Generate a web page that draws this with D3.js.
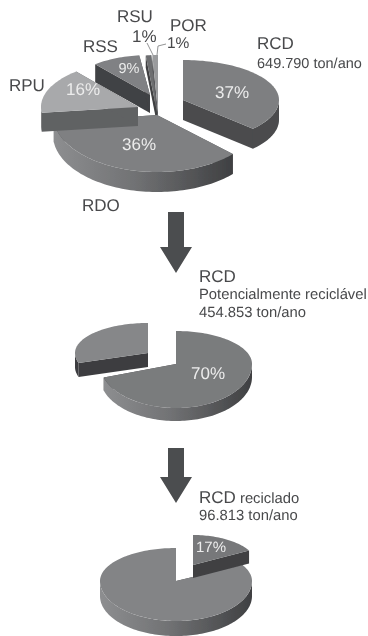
<!DOCTYPE html>
<html><head><meta charset="utf-8">
<script src="https://cdn.jsdelivr.net/npm/d3@7"></script>
<style>html,body{margin:0;padding:0;background:#fff}svg{display:block}text{font-family:"Liberation Sans",Arial,sans-serif;text-rendering:geometricPrecision}</style>
</head><body><svg id="c" width="368" height="636"></svg>
<script>
// data
const wasteNames = ["RCD","RDO","RPU","RSS","RSU","POR"];
const wasteShares = [37,36,16,9,1,1];
const potentialNames = ["Potencialmente reciclável","Outros"];
const potentialShares = [70,30];
const recycledNames = ["Reciclado","Outros"];
const recycledShares = [17,83];

// layout (one entry per slice, in data order)
const layoutWaste = [
  {cx:183,cy:100,rx:96,up:40,down:42,depth:20,top:"#7e7f81",face:"#4b4c4e",order:5},
  {cx:157,cy:115,rx:104,up:45,down:57,depth:20,top:"#7f8082",face:"#56575a",order:3},
  {cx:138,cy:107,rx:97,up:46,down:45,depth:19,top:"#a8a9ab",face:"#616264",order:4},
  {cx:150,cy:95,rx:86,up:40,down:38,depth:18,top:"#808184",face:"#414244",order:2},
  {cx:157,cy:112,rx:90,up:57,down:40,depth:12,top:"#6d6e70",face:"#3f4042",order:0},
  {cx:158,cy:112,rx:90,up:57,down:40,depth:12,top:"#9a9b9d",face:"#58595b",order:1}
];
const layoutPotential = [
  {cx:176,cy:364,rx:76,up:33,down:44,depth:13,top:"#7a7b7d",face:"#4b4c4e",order:0},
  {cx:148,cy:353,rx:73,up:30,down:32,depth:14,top:"#868789",face:"#3d3e40",order:1}
];
const layoutRecycled = [
  {cx:193,cy:565,rx:64,up:30,down:30,depth:13,top:"#77787a",face:"#404143",order:1},
  {cx:176,cy:581,rx:76,up:33,down:40,depth:15,top:"#838486",face:"#4b4c4e",order:0}
];
const arrows = [{x:176,y0:212,y1:247,tip:273},{x:176,y0:448,y1:477,tip:503}];
const ink = "#48494b";
const texts = [
  ["RCD",257,49,17,ink,"start"],["649.790 ton/ano",257,68,14.5,ink,"start"],
  ["RSU",117,22,17,ink,"start"],["1%",132,42,17,ink,"start"],
  ["POR",170,31,17,ink,"start"],["1%",167,48,15.5,ink,"start"],
  ["RSS",83,52,17,ink,"start"],["RPU",9,91,17,ink,"start"],["RDO",82,211,17,ink,"start"],
  ["37%",232,98,17,"#ececec","middle"],["36%",139,150,17,"#ececec","middle"],
  ["16%",83,95,17,"#ececec","middle"],["9%",129,73,14.5,"#ececec","middle"],
  ["RCD",199,282,17,ink,"start"],["Potencialmente reciclável",199,299,14.8,ink,"start"],
  ["454.853 ton/ano",199,317,14.8,ink,"start"],["70%",208,379,17,"#ececec","middle"],
  ["96.813 ton/ano",199,520,14.8,ink,"start"],["17%",211,552,15,"#ececec","middle"]
];

const svg = d3.select("#c");
const defs = svg.append("defs");
const grad = defs.append("linearGradient").attr("id","wall");
[[0,"#8d8e90"],[0.45,"#717274"],[1,"#3f4042"]].forEach(([o,c])=>
  grad.append("stop").attr("offset",o).attr("stop-color",c));
const soft = defs.append("filter").attr("id","soft");
soft.append("feGaussianBlur").attr("stdDeviation",0.35);

const line = d3.line().x(d=>d[0]).y(d=>d[1]);
const pie = d3.pie().sort(null).startAngle(0).endAngle(2*Math.PI);

function pt(g,a,dz=0){
  const c=Math.cos(a);
  return [g.cx+g.rx*Math.sin(a), g.cy-(c>0?g.up:g.down)*c+dz];
}
function arcPts(g,a0,a1,dz=0){
  const n=Math.max(2,Math.ceil((a1-a0)/0.03));
  return d3.range(n+1).map(i=>pt(g,a0+(a1-a0)*i/n,dz));
}
function drawPie(values,layout){
  const arcs=pie(values);
  const group=svg.append("g").attr("filter","url(#soft)");
  d3.range(values.length).sort((a,b)=>layout[a].order-layout[b].order).forEach(i=>{
    const g=layout[i],a0=arcs[i].startAngle,a1=arcs[i].endAngle;
    const apex=[g.cx,g.cy],apexB=[g.cx,g.cy+g.depth];
    [a0,a1].forEach(a=>{
      group.append("path").attr("fill",g.face)
        .attr("d",line([apex,pt(g,a),pt(g,a,g.depth),apexB])+"Z");
    });
    const w0=Math.max(a0,Math.PI/2),w1=Math.min(a1,3*Math.PI/2);
    if(w1>w0){
      const wallFill = (w1-w0)>1.2 ? "url(#wall)" : g.face;
      const upper=arcPts(g,w0,w1),lower=arcPts(g,w0,w1,g.depth).reverse();
      group.append("path").attr("fill",wallFill)
        .attr("d",line(upper.concat(lower))+"Z");
    }
    group.append("path").attr("fill",g.top)
      .attr("d",line([apex].concat(arcPts(g,a0,a1)))+"Z");
  });
}
drawPie(wasteShares,layoutWaste);
drawPie(potentialShares,layoutPotential);
drawPie(recycledShares,layoutRecycled);

// leader lines
[[[147,43],[153,55]],[[166,44],[158,46],[157,55]]].forEach(p=>
  svg.append("path").attr("d",line(p)).attr("fill","none").attr("stroke","#77787a").attr("stroke-width",0.8));

// arrows
arrows.forEach(a=>{
  svg.append("path").attr("fill","#4c4d4f").attr("filter","url(#soft)")
   .attr("d",line([[a.x-8,a.y0],[a.x+8,a.y0],[a.x+8,a.y1],[a.x+16,a.y1],[a.x,a.tip],[a.x-16,a.y1],[a.x-8,a.y1]])+"Z");
});

// text
const textLayer = svg.append("g").attr("filter","url(#soft)");
texts.forEach(([s,x,y,fs,c,anc])=>{
  textLayer.append("text").attr("x",x).attr("y",y).attr("font-size",fs).attr("fill",c).attr("text-anchor",anc).text(s);
});
const t=textLayer.append("text").attr("x",199).attr("y",503).attr("fill",ink);
t.append("tspan").attr("font-size",17).text("RCD");
t.append("tspan").attr("font-size",14.8).text(" reciclado");
</script></body></html>
